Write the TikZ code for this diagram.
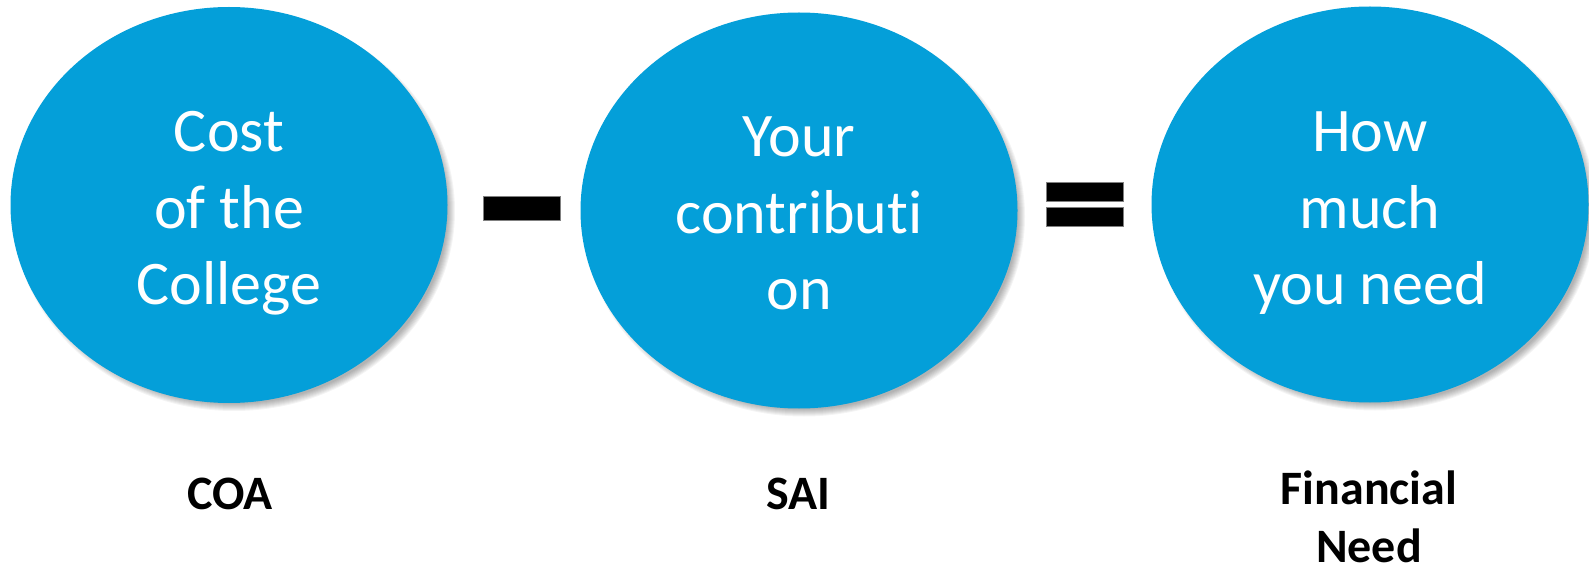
\documentclass[tikz,border=0pt]{standalone}
\usepackage{fontspec}
\setmainfont{Carlito}[Ligatures={NoCommon,NoRare,NoContextual}]
\usetikzlibrary{shapes.geometric}
\definecolor{bubblefill}{RGB}{4,159,217}
\begin{document}
\begin{tikzpicture}[x=1pt,y=-1pt,
  bubbleshape/.style={ellipse, fill=bubblefill, inner sep=0pt, minimum width=437pt, minimum height=396pt},
  shadowlayer/.style={ellipse, fill=black, fill opacity=0.045, inner sep=0pt},
  bubbletext/.style={text=white, align=center, font=\fontsize{62}{76.5}\selectfont},
  bottomtext/.style={align=center, font=\fontsize{48}{58}\selectfont\bfseries},
  barbox/.style={fill=black, draw=gray, line width=1pt, inner sep=0pt, minimum width=77pt}]
\useasboundingbox (0,0) rectangle (1589,569);
\foreach \cx/\cy in {229/205, 799/210.5, 1370/204.5} {
  \foreach \d in {0,2,...,14} {
    \node[shadowlayer, minimum width={428+\d}, minimum height={386+\d}] at (\cx+5,\cy+6) {};
  }
}
\node[bubbleshape] (e1) at (229,205) {};
\node[bubbleshape] (e2) at (799,210.5) {};
\node[bubbleshape] (e3) at (1370,204.5) {};
\node[bubbletext] (t1) at (229,213.5) {Cost\\of the\\College};
\node[bubbletext] (t2) at (799,213.5) {Your\\contribut\kern0pt i\\on};
\node[bubbletext] (t3) at (1370,213.5) {How\\much\\you need};
\node[barbox, minimum height=24pt] (minus) at (521.5,209) {};
\node[barbox, minimum height=19pt] (eqtop) at (1084.5,192.5) {};
\node[barbox, minimum height=19pt] (eqbot) at (1084.5,217.5) {};
\node[bottomtext, anchor=base] (l1) at (230,509) {COA};
\node[bottomtext, anchor=base] (l2) at (798,509) {SAI};
\node[bottomtext] (l3) at (1369,517) {Financial\\Need};
\end{tikzpicture}
\end{document}
